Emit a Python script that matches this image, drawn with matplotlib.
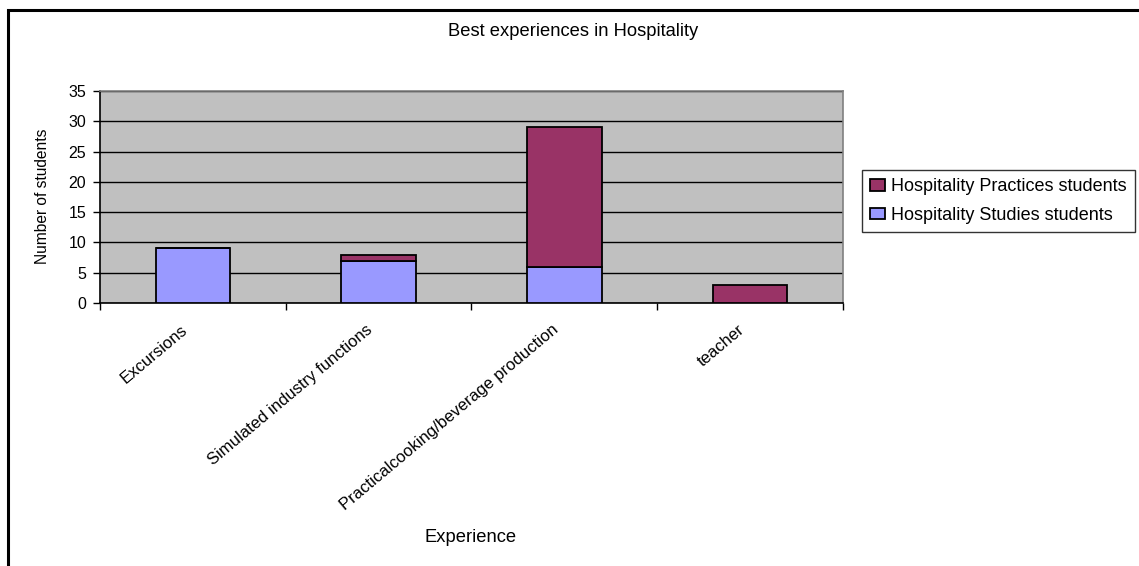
import matplotlib.pyplot as plt
from matplotlib.patches import Rectangle
import matplotlib.transforms as mtransforms
import numpy as np

plt.rcParams['font.family'] = ['Liberation Sans', 'DejaVu Sans']

categories = ['Excursions', 'Simulated industry functions',
              'Practicalcooking/beverage production', 'teacher']
studies = [9, 7, 6, 0]
practices = [0, 1, 23, 3]

fig = plt.figure(figsize=(11.39, 5.66), dpi=100)
W, H = 1139, 566
# plot area in pixels: x 100..843, y 91..303
ax = fig.add_axes([100 / W, 1 - 303 / H, (843 - 100) / W, (303 - 91) / H])
ax.set_facecolor('#C0C0C0')

x = np.arange(len(categories))
bw = 0.40
ax.bar(x, studies, bw, color='#9999FF', edgecolor='black', linewidth=1.3,
       label='Hospitality Studies students', zorder=3)
ax.bar(x, practices, bw, bottom=studies, color='#993366', edgecolor='black',
       linewidth=1.3, label='Hospitality Practices students', zorder=3)

ax.set_xlim(-0.5, len(categories) - 0.5)
ax.set_ylim(0, 35)
ax.set_yticks(range(0, 36, 5))
ax.yaxis.grid(True, color='black', linewidth=1.0, zorder=1)
ax.set_axisbelow(True)

ax.set_xticks(x)
ax.set_xticklabels(categories, rotation=40, ha='right', va='center',
                   rotation_mode='anchor', fontsize=12)
ax.tick_params(axis='x', length=0, pad=0)
offset = mtransforms.ScaledTranslation(-0.08, -0.25, fig.dpi_scale_trans)
for lab in ax.get_xticklabels():
    lab.set_transform(lab.get_transform() + offset)
ax.set_xticks(np.arange(-0.5, len(categories)), minor=True)
ax.tick_params(axis='x', which='minor', length=5, width=1, color='black')
ax.tick_params(axis='y', length=5, width=1, labelsize=11.5, pad=5)

for s in ['top', 'right']:
    ax.spines[s].set_color('#808080')
    ax.spines[s].set_linewidth(1.2)
for s in ['left', 'bottom']:
    ax.spines[s].set_color('black')
    ax.spines[s].set_linewidth(1.2)

fig.text(573 / W, 1 - 32 / H, 'Best experiences in Hospitality',
         ha='center', va='center', fontsize=13.2)
fig.text(471 / W, 1 - 538 / H, 'Experience', ha='center', va='center',
         fontsize=13.2)
fig.text(43 / W, 1 - 196 / H, 'Number of students', ha='center', va='center',
         rotation=90, fontsize=11.2)

handles, labels = ax.get_legend_handles_labels()
leg = fig.legend(handles[::-1], labels[::-1], loc='center left',
                 bbox_to_anchor=(862 / W, 1 - 201 / H), fontsize=13,
                 frameon=True, fancybox=False, edgecolor='black',
                 handlelength=0.8, handleheight=0.6, handletextpad=0.35,
                 borderpad=0.45, labelspacing=0.65, borderaxespad=0)
leg.get_frame().set_linewidth(1.0)

# outer chart frame (cut off at right and bottom)
fig.patches.append(Rectangle((8 / W, -0.1), 1.2, 1 - 10 / H + 0.1,
                             transform=fig.transFigure, fill=False,
                             edgecolor='black', linewidth=2.2))

fig.savefig('out.png', dpi=100, facecolor='white')
